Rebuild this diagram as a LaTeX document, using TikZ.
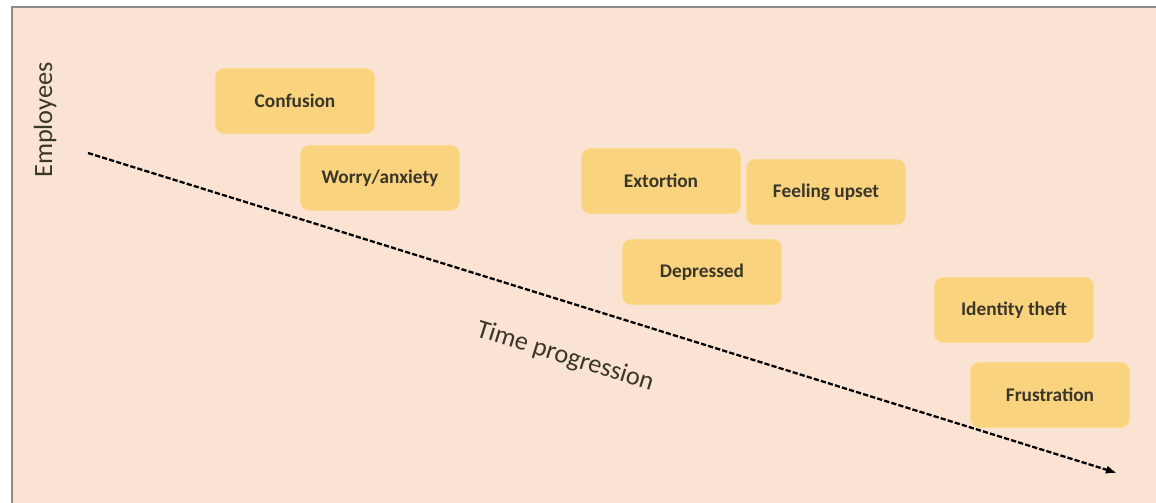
\documentclass[tikz,border=0pt]{standalone}
\usepackage{fontspec}
\setmainfont{Carlito}
\usetikzlibrary{positioning, calc, arrows.meta}
\definecolor{peach}{RGB}{251,227,211}
\definecolor{boxfill}{RGB}{249,211,126}
\definecolor{frameline}{RGB}{140,140,140}
\definecolor{labeltext}{RGB}{58,54,42}

\begin{document}
\begin{tikzpicture}[x=0.02cm, y=-0.02cm, every node/.style={text=labeltext}, feeling/.style={rounded corners=5pt, fill=boxfill, draw=boxfill!85!white, minimum width=31.8mm, minimum height=13mm, font=\bfseries\fontsize{11}{13}\selectfont}, axislabel/.style={font=\fontsize{15}{18}\selectfont}, arrow/.style={-{Latex[length=2.2mm, width=1.7mm]}, line width=1.3pt, dash pattern=on 3pt off 1.2pt}]
      \useasboundingbox (0,0) rectangle (1156,503);
      \fill[peach] (12,7) rectangle (1156,503);
      \draw[frameline, line width=1.5pt] (12,503) -- (12,7) -- (1156,7);

      \node[feeling] (confusion) at (295,101) {Confusion}; \node[feeling]
      (worry) at (380,178) {Worry/anxiety}; \node[feeling] (extortion) at
      (661,181) {Extortion}; \node[feeling] (upset) at (826,192) {Feeling
      upset}; \node[feeling] (depressed) at (702,272) {Depressed};
      \node[feeling] (theft) at (1014,310) {Identity theft}; \node[feeling]
      (frustration) at (1050,395) {Frustration};

      \coordinate (start) at (88,153); \coordinate (end) at (1117,473);
      \draw[arrow] (start) -- (end);
      \node[axislabel, rotate=-17.3] (time) at (565,357) {Time progression};
      \node[axislabel, rotate=90] (employees) at (45,120) {Employees};
    \end{tikzpicture}
\end{document}
